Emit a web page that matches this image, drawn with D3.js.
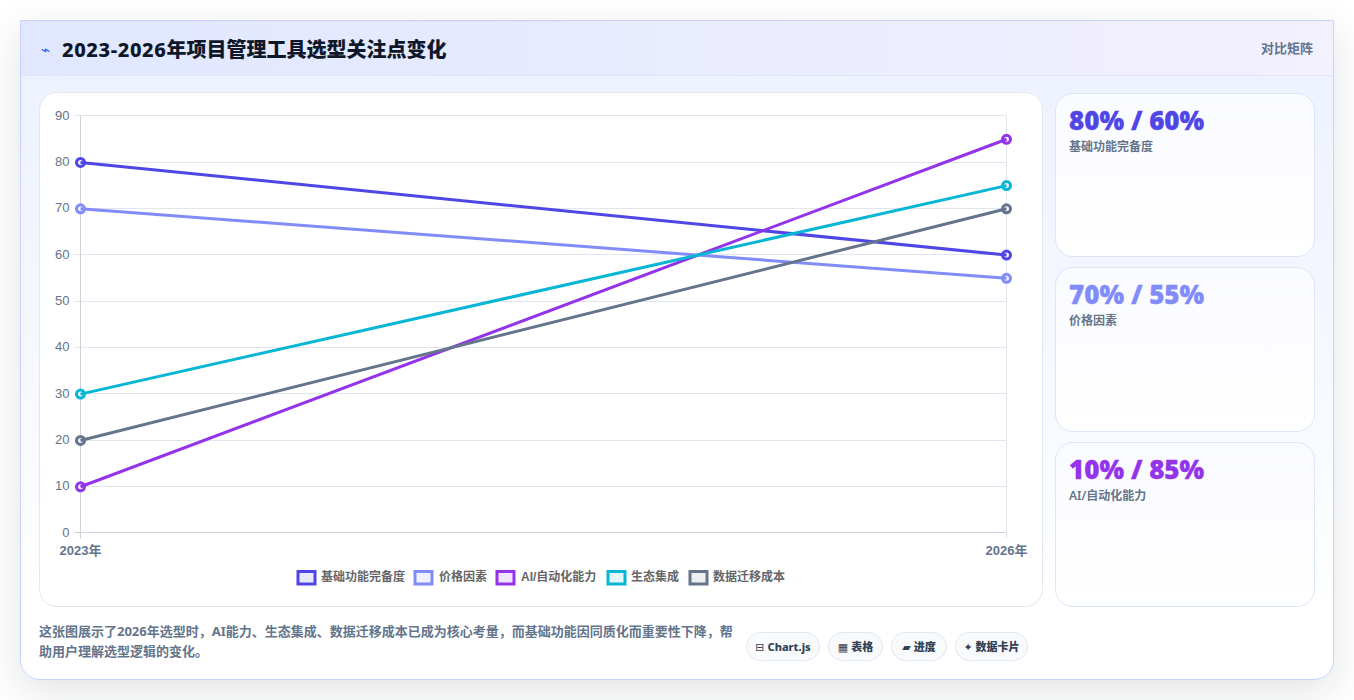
<!DOCTYPE html>
<html lang="zh"><head><meta charset="utf-8">
<script src="https://cdn.jsdelivr.net/npm/d3@7/dist/d3.min.js"></script>
<style>
*{box-sizing:border-box}
html,body{margin:0;width:1354px;height:700px;overflow:hidden;background:#fff;font-family:"Noto Sans","Noto Sans CJK SC",sans-serif}
#card{position:absolute;left:20px;top:20px;width:1314px;height:660px;border:1px solid #c7d2fe;border-radius:0 0 20px 20px;background:linear-gradient(180deg,#eef2ff 6%,#f6f8ff 50%,#ffffff 90%);box-shadow:0 12px 40px rgba(15,23,42,.12)}
#head{position:absolute;left:0;top:0;width:1312px;height:55px;background:linear-gradient(90deg,#e0e7ff,#f3f0ff);border-bottom:1px solid #dfe6fa}
#head .ic{position:absolute;left:20px;top:16px;font-size:15px;line-height:26px;color:#2563eb;font-family:"DejaVu Sans"}
#head h1{position:absolute;left:41px;top:15px;margin:0;font-size:20px;line-height:28px;font-weight:800;color:#0f172a;white-space:nowrap}
#head h1 span{letter-spacing:.62px}
#head .tag{position:absolute;right:20px;top:18px;font-size:13px;line-height:18px;font-weight:600;color:#64748b}
#panel{position:absolute;left:18px;top:71px;width:1004px;height:515px;background:#fff;border:1px solid #e2e8f0;border-radius:18px}
#svg{position:absolute;left:0;top:0}
.side{position:absolute;left:1034px;width:260px;border:1px solid #dbe7f7;border-radius:18px;background:linear-gradient(180deg,#fafbff,#fff)}
.side .v{position:absolute;left:13px;top:7.5px;font-size:26px;line-height:36px;font-weight:900;white-space:nowrap;-webkit-text-stroke:.3px currentColor}
.side .l{position:absolute;left:13px;top:44px;font-size:12px;line-height:18px;font-weight:600;color:#64748b;white-space:nowrap}
#note{position:absolute;left:18px;top:600px;width:700px;font-size:13px;line-height:20px;font-weight:700;color:#64748b}
.pill{position:absolute;top:611px;height:29px;border:1px solid #e2e8f0;border-radius:15px;background:#f8fafc;font-size:11px;line-height:27px;font-weight:800;color:#334155;white-space:nowrap;text-align:center}
.pill i{font-style:normal;font-family:"DejaVu Sans";font-weight:400;margin-right:3px}
</style></head><body>
<div id="card">
 <div id="head"><span class="ic">⌁</span><h1><span></span><b style="font-weight:800"></b></h1><span class="tag"></span></div>
 <div id="panel"></div>
 <div id="note"></div>
</div>
<script>
const titleLatin="2023-2026";
const titleRest="年项目管理工具选型关注点变化";
const headTag="对比矩阵";
const years=["2023年","2026年"];
const yTicks=[0,10,20,30,40,50,60,70,80,90];
const seriesNames=["基础功能完备度","价格因素","AI/自动化能力","生态集成","数据迁移成本"];
const seriesColors=["#4f46e5","#818cf8","#9333ea","#06b6d4","#64748b"];
const values2023=[80,70,10,30,20];
const values2026=[60,55,85,75,70];
const sideNames=["基础功能完备度","价格因素","AI/自动化能力"];
const sideValues=["80% / 60%","70% / 55%","10% / 85%"];
const sideColors=["#4f46e5","#818cf8","#9333ea"];
const note="这张图展示了2026年选型时，AI能力、生态集成、数据迁移成本已成为核心考量，而基础功能因同质化而重要性下降，帮助用户理解选型逻辑的变化。";
const pillIcons=["⊟","▦","▰","✦"];
const pillTexts=["Chart.js","表格","进度","数据卡片"];
const pillX=[725,807,870,934],pillW=[74,55,56,73];

const card=d3.select("#card");
d3.select("h1 span").text(titleLatin);
d3.select("h1 b").text(titleRest);
d3.select(".tag").text(headTag);
d3.select("#note").text(note);
const sideTop=[72,246,421],sideH=[164,165,165];
sideNames.forEach((n,i)=>{
  const s=card.append("div").attr("class","side").style("top",sideTop[i]+"px").style("height",sideH[i]+"px");
  s.append("div").attr("class","v").style("color",sideColors[i]).text(sideValues[i]);
  s.append("div").attr("class","l").text(n);
});
pillTexts.forEach((t,i)=>{
  const p=card.append("div").attr("class","pill").style("left",pillX[i]+"px").style("width",pillW[i]+"px");
  p.append("i").text(pillIcons[i]);
  p.append("span").text(t);
});

const ox=40,oy=93;
const svg=d3.select("#panel").append("svg").attr("id","svg").attr("width",1002).attr("height",513);
const x=d3.scalePoint().domain(years).range([80.5-ox,1006.5-ox]);
const y=d3.scaleLinear().domain([0,90]).range([533.1-oy,116.1-oy]);
const snap=d=>Math.floor(y(d)+oy-.4)-oy+.5;
const fontT='"Liberation Sans",Arial,sans-serif';
svg.append("g").selectAll("line").data(yTicks).join("line")
 .attr("x1",x(years[0])-6).attr("x2",x(years[1])).attr("y1",snap).attr("y2",snap)
 .attr("stroke",d=>d===0?"#cfd2da":"#e2e5ec").attr("stroke-width",1);
svg.append("g").selectAll("line").data(years).join("line")
 .attr("x1",d=>x(d)).attr("x2",d=>x(d)).attr("y1",snap(90)).attr("y2",snap(0)+6)
 .attr("stroke",(d,i)=>i?"#e2e5ec":"#cfd2da");
svg.append("g").selectAll("text").data(yTicks).join("text")
 .attr("x",x(years[0])-11).attr("y",d=>y(d)+3.6).attr("text-anchor","end")
 .attr("font-family",fontT).attr("font-size",13).attr("fill","#64748b").text(d=>d);
svg.append("g").selectAll("text").data(years).join("text")
 .attr("x",d=>x(d)).attr("y",y(0)+22).attr("text-anchor","middle")
 .attr("font-family",'"Liberation Sans","Noto Sans CJK SC",sans-serif').attr("font-weight",600).attr("font-size",13).attr("fill","#64748b").text(d=>d);
const line=d3.line().x(d=>x(d.y)).y(d=>y(d.v));
const rows=seriesNames.map((n,i)=>({n,c:seriesColors[i],pts:[{y:years[0],v:values2023[i]},{y:years[1],v:values2026[i]}]}));
rows.forEach(r=>{
  r.pts.forEach(p=>svg.append("circle").attr("cx",x(p.y)).attr("cy",y(p.v)).attr("r",4)
    .attr("fill","#f2f2ff").attr("stroke",r.c).attr("stroke-width",3));
  svg.append("path").attr("d",line(r.pts)).attr("fill","none").attr("stroke",r.c).attr("stroke-width",3);
});
const legX=[296.5,413.5,495.5,606.5,688.5],legTextDx=[24.5,25.5,25.5,24.5,24.5];
const lg=svg.append("g");
rows.forEach((r,i)=>{
  const g=lg.append("g").attr("transform",`translate(${legX[i]-ox},${570-oy})`);
  g.append("rect").attr("x",1.5).attr("y",1.5).attr("width",17).attr("height",12.5).attr("fill",r.c).attr("fill-opacity",.12).attr("stroke",r.c).attr("stroke-width",3);
  g.append("text").attr("x",legTextDx[i]).attr("y",11).attr("font-size",12).attr("font-weight",600).attr("fill","#666")
   .attr("font-family",'"Liberation Sans","Noto Sans CJK SC",sans-serif').text(r.n);
});
</script></body></html>
